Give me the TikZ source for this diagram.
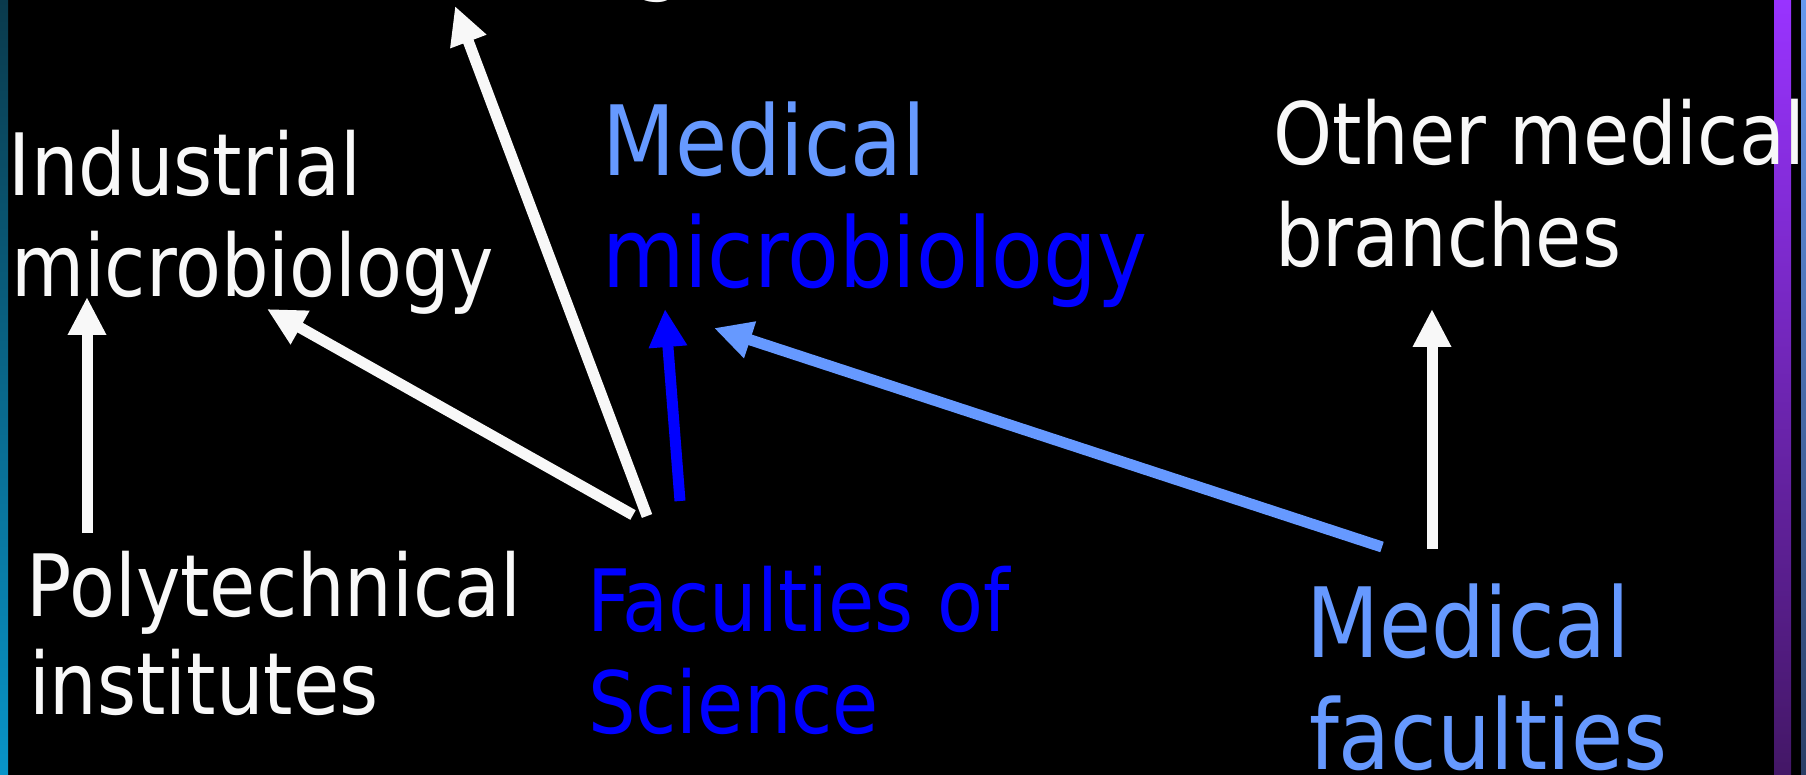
\documentclass[tikz,border=0pt]{standalone}
\usepackage{fontspec}
\setmainfont{DejaVu Sans Condensed}[FakeStretch=0.97]
\usetikzlibrary{arrows.meta}
\definecolor{txtwhite}{HTML}{F8F8F8}
\definecolor{lightblue}{HTML}{6699FF}
\definecolor{pureblue}{HTML}{0000FF}
\definecolor{tealtop}{HTML}{0A3A4C}
\definecolor{tealbot}{HTML}{0894C8}
\definecolor{purtop}{HTML}{9933FF}
\definecolor{purbot}{HTML}{431766}
\definecolor{bbtop}{HTML}{6699EE}
\definecolor{bbbot}{HTML}{2A3F66}
\tikzset{
  lbl/.style={anchor=base west, inner sep=0pt, outer sep=0pt},
  small/.style={font=\fontsize{86}{100}\selectfont},
  large/.style={font=\fontsize{97}{112}\selectfont},
  arr/.style={line width=11pt, -{Triangle[length=38pt,width=36pt]}},
}
\begin{document}
\begin{tikzpicture}[x=1pt,y=-1pt]
\useasboundingbox (0,0) rectangle (1806,775);
\fill[black] (0,0) rectangle (1806,775);
% side bars
\shade[top color=tealtop, bottom color=tealbot] (0,0) rectangle (8,775);
\shade[top color=purtop, bottom color=purbot] (1774,0) rectangle (1791,775);
\shade[top color=bbtop, bottom color=bbbot] (1801,0) rectangle (1806,775);
% partial text at top edge
\begin{scope}
\clip (0,0) rectangle (1806,775);
\node[lbl, large, text=txtwhite] (topg) at (632,-17) {g};
\end{scope}
% texts
\node[lbl, small, text=txtwhite] (ind1) at (9,196) {Industrial};
\node[lbl, small, text=txtwhite] (ind2) at (11,297) {microbiology};
\node[lbl, large, text=lightblue] (med1) at (602,176) {Medical};
\node[lbl, large, text=pureblue] (med2) at (602,288) {microbiology};
\node[lbl, small, text=txtwhite] (oth1) at (1273,165) {Other medical};
\node[lbl, small, text=txtwhite] (oth2) at (1275,267) {branches};
\node[lbl, small, text=txtwhite] (poly1) at (27,616) {Polytechnical};
\node[lbl, small, text=txtwhite] (poly2) at (29,714) {institutes};
\node[lbl, small, text=pureblue] (fac1) at (587,631) {Faculties of};
\node[lbl, small, text=pureblue] (fac2) at (588,733) {Science};
\node[lbl, large, text=lightblue] (mf1) at (1306,657) {Medical};
\node[lbl, large, text=lightblue] (mf2) at (1309,769) {faculties};
% connector endpoints
\coordinate (p1) at (87,533);
\coordinate (i1) at (87,297);
\coordinate (f1) at (633,515);
\coordinate (i2) at (267,309);
\coordinate (f2) at (647,516);
\coordinate (tp) at (455,6);
\coordinate (f3) at (680,501);
\coordinate (m1) at (665,309);
\coordinate (mf) at (1382,547);
\coordinate (m2) at (714,328);
\coordinate (mfo) at (1432,549);
\coordinate (ob) at (1432,309);
% connectors
\draw[arr, txtwhite] (p1) -- (i1);
\draw[arr, txtwhite] (f1) -- (i2);
\draw[arr, txtwhite] (f2) -- (tp);
\draw[arr, pureblue] (f3) -- (m1);
\draw[arr, lightblue] (mf) -- (m2);
\draw[arr, txtwhite] (mfo) -- (ob);
\end{tikzpicture}
\end{document}
